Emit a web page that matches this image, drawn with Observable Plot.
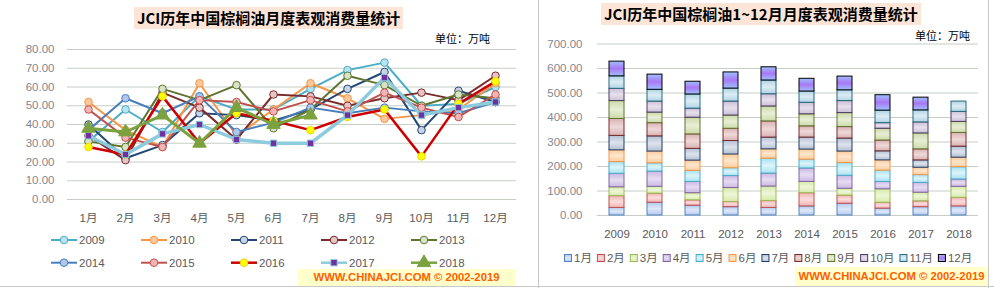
<!DOCTYPE html>
<html><head><meta charset="utf-8">
<script src="https://cdn.jsdelivr.net/npm/d3@7"></script>
<script src="https://cdn.jsdelivr.net/npm/@observablehq/plot@0.6"></script>
<style>
body{margin:0;background:#fff;font-family:"Liberation Sans","Noto Sans CJK SC",sans-serif;}
#root{position:relative;width:994px;height:288px;overflow:hidden;background:#fff;}
.abs{position:absolute;}
.title{font-family:"Noto Sans CJK SC",sans-serif;font-weight:700;font-size:15px;background:#fce4d6;padding:0 3px;white-space:nowrap;height:22px;line-height:22px;color:#000;}
.unit{font-family:"Noto Sans CJK SC",sans-serif;font-size:11px;color:#000;white-space:nowrap;line-height:14px;}
.foot{background:#ffffcc;color:#ff6000;font-weight:700;font-size:11.3px;font-family:"Liberation Sans",sans-serif;text-align:center;white-space:nowrap;overflow:hidden;}
</style></head><body><div id="root"></div>
<script>
// ---- data ----
const months = ["1月","2月","3月","4月","5月","6月","7月","8月","9月","10月","11月","12月"];
const years = ["2009","2010","2011","2012","2013","2014","2015","2016","2017","2018"];
const v2009 = [31, 48, 36, 55, 48, 48, 59, 69, 73, 50, 51, 60];
const v2010 = [52, 37, 28, 62, 34, 48, 62, 54, 43, 45, 48, 62];
const v2011 = [40, 22, 29, 46, 45, 42, 48, 59, 68, 37, 58, 52];
const v2012 = [34, 21, 57, 49, 32, 56, 55, 50, 54, 57, 53, 66];
const v2013 = [31, 28, 59, 53, 61, 38, 48, 66, 61, 50, 56, 54];
const v2014 = [37, 54, 46, 55, 36, 41, 49, 46, 49, 47, 46, 52];
const v2015 = [48, 33, 28, 53, 52, 47, 53, 47, 57, 49, 44, 56];
const v2016 = [28, 24, 55, 30, 46, 42, 37, 44, 48, 23, 51, 63];
const v2017 = [34, 24, 35, 40, 32, 30, 30, 45, 65, 45, 49, 52];
const v2018 = [37, 35, 45, 30, 50, 39, 45, 56, 45, 41, 42];      // bar chart (1-11月)
const v2018Line = [38, 36, 45, 30, 49, 40, 45];                   // line chart shows 1-7月
const leftTicks = [0, 10, 20, 30, 40, 50, 60, 70, 80];
const rightTicks = [0, 100, 200, 300, 400, 500, 600, 700];
const leftTitle = "JCI历年中国棕榈油月度表观消费量统计";
const rightTitle = "JCI历年中国棕榈油1~12月月度表观消费量统计";
const unitText = "单位：万吨";
const footText = "WWW.CHINAJCI.COM © 2002-2019";

const lineValues = [v2009, v2010, v2011, v2012, v2013, v2014, v2015, v2016, v2017, v2018Line];
const barValues = [v2009, v2010, v2011, v2012, v2013, v2014, v2015, v2016, v2017, v2018];

// ---- styles ----
const seriesStyle = [
  {line:"#4bacc6", w:2,   symbol:"circle",   r:3.8, fill:"#b7e3f0", stroke:"#4bacc6"},
  {line:"#f79646", w:2,   symbol:"circle",   r:3.8, fill:"#fbc79b", stroke:"#f79646"},
  {line:"#254775", w:2,   symbol:"circle",   r:3.8, fill:"#c8d3e6", stroke:"#254775"},
  {line:"#7a2b2a", w:2,   symbol:"circle",   r:3.8, fill:"#e4c6c6", stroke:"#7a2b2a"},
  {line:"#5f7530", w:2,   symbol:"circle",   r:3.8, fill:"#d8e2c4", stroke:"#5f7530"},
  {line:"#4a7ebb", w:2,   symbol:"circle",   r:3.8, fill:"#b0c6ec", stroke:"#4a7ebb"},
  {line:"#c0504d", w:2,   symbol:"circle",   r:3.8, fill:"#f2b5b4", stroke:"#c0504d"},
  {line:"#cc0000", w:2.5, symbol:"circle",   r:3.8, fill:"#ffff00", stroke:"#e8d800"},
  {line:"#8ccbdd", w:3.5, symbol:"square",   r:3.6, fill:"#7030a0", stroke:"#8ccbdd"},
  {line:"#7ba23f", w:3,   symbol:"triangle", r:5,   fill:"#7ba23f", stroke:"#7ba23f"}
];
const monthBorder = ["#4f81bd","#c0504d","#9bbb59","#8064a2","#4bacc6","#f79646","#1f3f6a","#772c2a","#5f7530","#4d3b62","#276a7c","#000000"];
const monthFill = [
  ["#b4c9ef","#dde8f8"],["#f2b4b4","#fadcdc"],["#d6eaa8","#eef6d8"],["#cbb8e4","#e6dcf2"],
  ["#a8e2f2","#dcf4fa"],["#fbcc9c","#fde6ce"],["#b4c0d4","#dde3ec"],["#dab2b2","#eed8d8"],
  ["#cddaa8","#e8eed6"],["#cbc0d8","#e6e0ec"],["#b0d4e6","#dcecf4"],["#9fc0ff","#a878f4"]
];
const grid = "#c6cec6";
const FONT = "Liberation Sans, Noto Sans CJK SC, sans-serif";

const root = document.getElementById("root");

// ---- left line chart ----
const lineRows = years.flatMap((y, i) => lineValues[i].map((v, j) => ({year: y, month: months[j], value: v})));
const leftMarks = [Plot.ruleY(leftTicks, {stroke: grid, strokeWidth: 1})];
years.forEach((y, i) => {
  const s = seriesStyle[i];
  const rows = lineRows.filter(d => d.year === y);
  leftMarks.push(Plot.lineY(rows, {x: "month", y: "value", stroke: s.line, strokeWidth: s.w, strokeLinejoin: "round"}));
  leftMarks.push(Plot.dot(rows, {x: "month", y: "value", symbol: s.symbol, r: s.r, fill: s.fill, stroke: s.stroke, strokeWidth: 1}));
});
leftMarks.push(Plot.axisY({ticks: leftTicks, tickSize: 0, tickPadding: 13, tickFormat: d => d.toFixed(2), fill: "#7f8790", fontSize: 11.5}));
leftMarks.push(Plot.axisX({tickSize: 0, tickPadding: 14, fill: "#595959", fontSize: 11.5}));

const left = Plot.plot({
  width: 540, height: 232,
  marginLeft: 67, marginRight: 24, marginTop: 49, marginBottom: 33,
  x: {type: "point", domain: months, padding: 0.5, label: null},
  y: {domain: [0, 80], label: null},
  style: {fontFamily: FONT, fontSize: "11.5px", background: "transparent", overflow: "visible"},
  marks: leftMarks
});
left.classList.add("abs");
left.style.left = "0px"; left.style.top = "0px";
root.appendChild(left);

// ---- right stacked bar chart ----
const barRows = years.flatMap((y, i) => barValues[i].map((v, j) => ({year: y, mi: j, month: months[j], value: v})));
const rightMarks = [Plot.ruleY(rightTicks, {stroke: grid, strokeWidth: 1})];
months.forEach((m, j) => {
  rightMarks.push(Plot.barY(barRows, Plot.filter(d => d.mi === j,
    Plot.stackY({x: "year", y: "value", fill: `url(#mg${j})`, stroke: monthBorder[j], strokeWidth: 1}))));
});
rightMarks.push(Plot.axisY({ticks: rightTicks, tickSize: 0, tickPadding: 15, tickFormat: d => d.toFixed(2), fill: "#7f8790", fontSize: 11.5}));
rightMarks.push(Plot.axisX({tickSize: 0, tickPadding: 14, fill: "#595959", fontSize: 11.5}));

const right = Plot.plot({
  width: 454, height: 240,
  marginLeft: 57, marginRight: 16, marginTop: 43.5, marginBottom: 25,
  x: {type: "band", domain: years, paddingInner: 0.6, paddingOuter: 0.3, label: null},
  y: {domain: [0, 700], label: null},
  style: {fontFamily: FONT, fontSize: "11.5px", background: "transparent", overflow: "visible"},
  marks: rightMarks
});
const defs = d3.select(right).insert("defs", ":first-child");
monthFill.forEach((c, j) => {
  const g = defs.append("linearGradient").attr("id", `mg${j}`).attr("x1", 0).attr("y1", 0).attr("x2", 0).attr("y2", 1);
  g.append("stop").attr("offset", "0%").attr("stop-color", c[0]);
  g.append("stop").attr("offset", "50%").attr("stop-color", c[1]);
  g.append("stop").attr("offset", "100%").attr("stop-color", c[0]);
});
right.classList.add("abs");
right.style.left = "540px"; right.style.top = "0px";
root.appendChild(right);

// ---- frame lines ----
const frame = d3.select(root).append("svg").attr("class", "abs").attr("width", 994).attr("height", 288)
  .style("left", "0px").style("top", "0px").style("pointer-events", "none");
frame.append("line").attr("x1", 538.5).attr("x2", 538.5).attr("y1", 0).attr("y2", 288).attr("stroke", "#c8c8c8");
frame.append("line").attr("x1", 0).attr("x2", 994).attr("y1", 286.5).attr("y2", 286.5).attr("stroke", "#c8c8c8");
frame.append("line").attr("x1", 988.5).attr("x2", 988.5).attr("y1", 0).attr("y2", 288).attr("stroke", "#c8c8c8");

// ---- left legend ----
years.forEach((y, i) => {
  const s = seriesStyle[i];
  const row = Math.floor(i / 5), col = i % 5;
  const cx = 64 + col * 90, cy = 240 + row * 22.7;
  frame.append("line").attr("x1", cx - 13).attr("x2", cx + 13).attr("y1", cy).attr("y2", cy)
    .attr("stroke", s.line).attr("stroke-width", Math.min(s.w, 2.5));
  const sym = s.symbol === "square" ? d3.symbolSquare : s.symbol === "triangle" ? d3.symbolTriangle : d3.symbolCircle;
  frame.append("path").attr("d", d3.symbol(sym, Math.PI * s.r * s.r)()).attr("transform", `translate(${cx},${cy})`)
    .attr("fill", s.fill).attr("stroke", s.stroke);
  frame.append("text").attr("x", cx + 15).attr("y", cy).attr("dy", "0.35em").attr("fill", "#595959")
    .style("font", `11.5px ${FONT}`).text(y);
});

// ---- right legend ----
let lx = 564;
months.forEach((m, j) => {
  frame.append("rect").attr("x", lx + 0.5).attr("y", 254.5).attr("width", 7).attr("height", 7)
    .attr("fill", `url(#mg${j})`).attr("stroke", monthBorder[j]);
  const t = frame.append("text").attr("x", lx + 10).attr("y", 258).attr("dy", "0.35em").attr("fill", "#595959")
    .style("font", `11.5px ${FONT}`).text(m);
  lx += 10 + t.node().getComputedTextLength() + 5;
});

// ---- titles, units, footers ----
function addDiv(cls, text, css) {
  const d = document.createElement("div");
  d.className = "abs " + cls; d.textContent = text;
  Object.assign(d.style, css);
  root.appendChild(d);
  return d;
}
addDiv("title", leftTitle, {left: "134px", top: "7px"});
addDiv("title", rightTitle, {left: "601px", top: "3px"});
addDiv("unit", unitText, {left: "435px", top: "31px"});
addDiv("unit", unitText, {left: "915px", top: "28px"});
addDiv("foot", footText, {left: "298px", top: "269px", width: "217px", height: "17px", lineHeight: "17px"});
addDiv("foot", footText, {left: "795px", top: "267px", width: "193px", height: "19px", lineHeight: "19px"});
</script></body></html>
